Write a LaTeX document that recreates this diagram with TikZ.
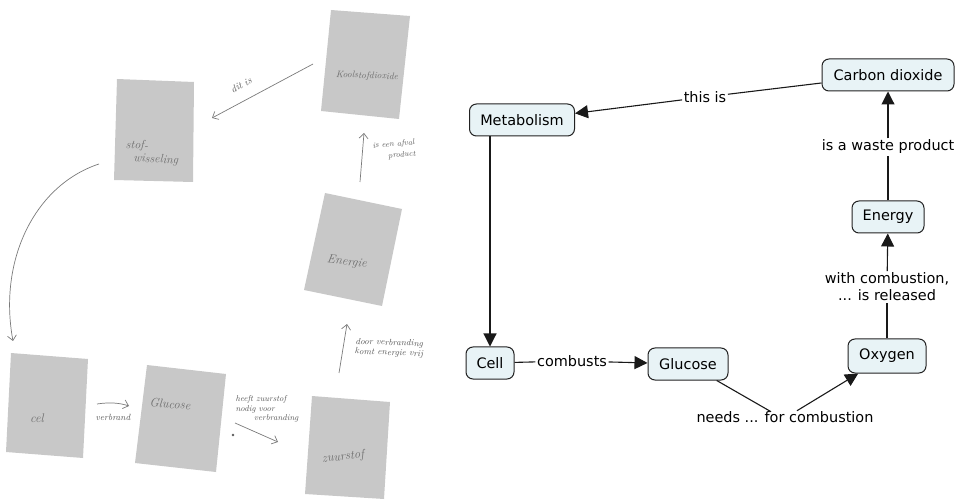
\documentclass[tikz,border=0pt]{standalone}
\usepackage{fontspec}
\newfontfamily\cmapfont{DejaVu Sans}
\usetikzlibrary{arrows.meta,calc}
\definecolor{boxgray}{HTML}{C8C8C8}
\definecolor{pencil}{HTML}{5A5A5A}
\definecolor{boxpencil}{HTML}{6E6E6E}
\definecolor{penline}{HTML}{7A7A7A}
\definecolor{conceptfill}{HTML}{E8F3F6}
\definecolor{conceptline}{HTML}{222222}
\tikzset{
  sheet/.style={fill=boxgray},
  handtext/.style={text=pencil, font=\itshape\fontsize{9}{10}\selectfont, inner sep=0pt, align=center},
  boxtext/.style={text=boxpencil, font=\itshape\fontsize{11}{12.5}\selectfont, inner sep=0pt, align=center},
  penarrow/.style={draw=penline, line width=0.7bp, -{Straight Barb[length=5bp,width=9bp]}},
  concept/.style={draw=conceptline, line width=1bp, fill=conceptfill, rounded corners=7bp,
    font=\cmapfont\fontsize{14.5}{17}\selectfont, minimum height=32bp, inner sep=0pt, align=center},
  linklabel/.style={font=\cmapfont\fontsize{14.5}{17}\selectfont, inner sep=1.5bp, align=center},
  conn/.style={draw=black!90, line width=1.1bp},
  arr/.style={conn, -{Triangle[length=13bp,width=13bp]}}
}
\begin{document}
\begin{tikzpicture}[x=1bp,y=-1bp]
\useasboundingbox (0,0) rectangle (957,500);

% ---------- left: hand-drawn sketch ----------
\fill[sheet] (331,10) -- (410,16) -- (399,119) -- (321,111) -- cycle;
\fill[sheet] (117,79) -- (194,82) -- (193,182) -- (114,180) -- cycle;
\fill[sheet] (325,193) -- (402,209) -- (382,306) -- (304,290) -- cycle;
\fill[sheet] (11,353) -- (88,359) -- (83,458) -- (6,452) -- cycle;
\fill[sheet] (147,365) -- (226,374) -- (216,472) -- (135,463) -- cycle;
\fill[sheet] (312,396) -- (390,402) -- (384,499) -- (305,494) -- cycle;

\node[boxtext, font=\itshape\fontsize{9.5}{11}\selectfont, rotate=-2] (tco2) at (367,76) {Koolstofdioxide};
\node[boxtext, font=\itshape\fontsize{12}{13}\selectfont, rotate=-3, align=left] (tstof) at (152,153) {stof-\\\ \ wisseling};
\node[boxtext, font=\itshape\fontsize{12.5}{13}\selectfont, rotate=-8] (tenergie) at (347,262) {Energie};
\node[boxtext, font=\itshape\fontsize{12.5}{13}\selectfont] (tcel) at (37,418) {cel};
\node[boxtext, font=\itshape\fontsize{12.5}{13}\selectfont, rotate=-4] (tglucose) at (170,404) {Glucose};
\node[boxtext, font=\itshape\fontsize{12.5}{13}\selectfont, rotate=6] (tzuurstof) at (343,457) {zuurstof};

\coordinate (a1s) at (313,64);  \coordinate (a1e) at (212,118);
\draw[penarrow] (a1s) -- (a1e);
\node[handtext, font=\itshape\fontsize{10}{11}\selectfont, rotate=28] (ldit) at (241,85) {dit is};

\coordinate (a2s) at (360,182); \coordinate (a2e) at (364,133);
\draw[penarrow] (a2s) -- (a2e);
\node[handtext, font=\itshape\fontsize{8}{11.5}\selectfont, rotate=5, align=right] (lafval) at (394,150) {is een afval\\product};

\coordinate (a3s) at (99,164); \coordinate (a3e) at (13,341);
\draw[penarrow] (a3s) .. controls (35,185) and (-2,260) .. (a3e);

\coordinate (a4s) at (97,404); \coordinate (a4e) at (129,406);
\draw[penarrow] (a4s) .. controls (110,402) and (120,403) .. (a4e);
\node[handtext] (lverbrand) at (113,417) {verbrand};

\coordinate (a5s) at (235,423); \coordinate (a5e) at (278,442);
\draw[penarrow] (a5s) -- (a5e);
\node[handtext, font=\itshape\fontsize{8.5}{9.5}\selectfont, align=left] (lheeft) at (267,409) {heeft zuurstof\\nodig voor\\\ \ \ \ \ \ verbranding};
\fill[pencil] (233,435) circle (1.3bp);

\coordinate (a6s) at (339,373); \coordinate (a6e) at (347,324);
\draw[penarrow] (a6s) -- (a6e);
\node[handtext, font=\itshape\fontsize{9}{10}\selectfont, rotate=-2] (ldoor) at (389,348) {door verbranding\\komt energie vrij};

% ---------- right: concept map ----------
\node[concept, minimum width=132bp] (co2) at (888,75) {Carbon dioxide};
\node[concept, minimum width=105bp] (met) at (522,120) {Metabolism};
\node[concept, minimum width=72bp] (energy) at (888,217) {Energy};
\node[concept, minimum width=78bp, minimum height=34bp] (oxygen) at (887,356) {Oxygen};
\node[concept, minimum width=48bp] (cell) at (490,363) {Cell};
\node[concept, minimum width=80bp] (glucose) at (688,364) {Glucose};

\node[linklabel] (thisis) at (705,97) {this is};
\node[linklabel] (waste) at (888,147) {is a waste product};
\node[linklabel] (withcomb) at (887,287) {with combustion,\\... is released};
\node[linklabel] (combusts) at (572,361) {combusts};
\node[linklabel] (needs) at (785,417) {needs ... for combustion};

\draw[conn] (co2) -- (thisis);
\draw[arr] (thisis) -- (met);
\draw[conn] (energy) -- (waste);
\draw[arr] (waste) -- (co2);
\draw[conn] (oxygen) -- (withcomb);
\draw[arr] (withcomb) -- (energy);
\draw[arr] (cell.north |- met.south) -- (cell.north);
\draw[conn] (cell) -- (combusts);
\draw[arr] (combusts) -- (glucose);
\draw[conn] (glucose) -- ($(needs.north)+(-14,2)$);
\draw[arr] ($(needs.north)+(12,1)$) -- (oxygen);
\end{tikzpicture}
\end{document}
